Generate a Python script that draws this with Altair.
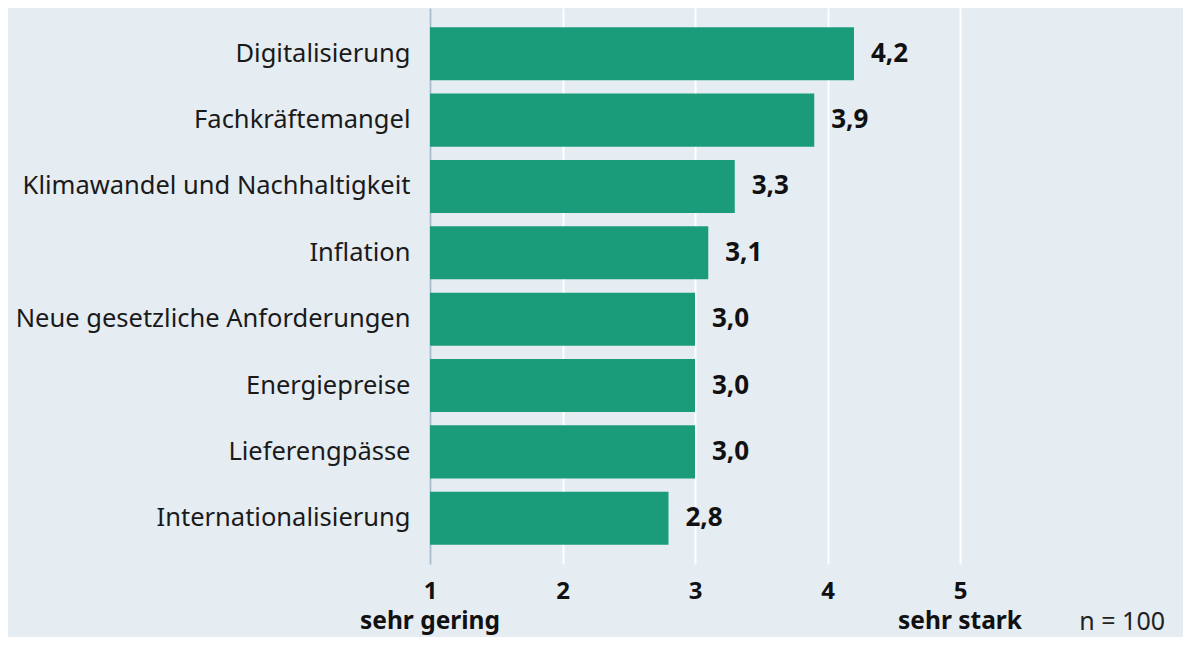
import altair as alt
import pandas as pd

categories = ["Digitalisierung", "Fachkräftemangel", "Klimawandel und Nachhaltigkeit",
              "Inflation", "Neue gesetzliche Anforderungen", "Energiepreise",
              "Lieferengpässe", "Internationalisierung"]
values = [4.2, 3.9, 3.3, 3.1, 3.0, 3.0, 3.0, 2.8]
tick_values = [1, 2, 3, 4, 5]
end_labels = ["sehr gering", "sehr stark"]
end_positions = [1, 5]
note = "n = 100"

df = pd.DataFrame({"cat": categories, "val": values})
df_ends = pd.DataFrame({"pos": end_positions, "label": end_labels})
df_note = pd.DataFrame({"label": [note]})

FONT = "Noto Sans"
BG = "#e5ecf2"
BAR = "#1a9c7b"

xscale = alt.Scale(domain=[1, 5], nice=False, zero=False)
yscale = alt.Scale(domain=categories, paddingInner=0.2, paddingOuter=0.29)

base = alt.Chart(df)

bars = base.mark_bar(color=BAR).encode(
    x=alt.X("val:Q", scale=xscale,
            axis=alt.Axis(values=tick_values, title=None, grid=True, gridColor="white",
                          gridWidth=2, domain=False, ticks=False, labelPadding=15,
                          labelFontSize=24, labelFontWeight="bold", labelColor="#111111",
                          labelFont=FONT, format="d", labelFlush=False)),
    x2=alt.datum(1),
    y=alt.Y("cat:N", scale=yscale, sort=None,
            axis=alt.Axis(title=None, ticks=False, domainColor="#a8bdcb", domainWidth=2,
                          labelPadding=20, labelFontSize=25.5, labelColor="#1a1a1a",
                          labelFont=FONT, labelLimit=500)),
)

labels = base.mark_text(align="left", baseline="middle", dx=17, fontSize=26,
                        fontWeight="bold", font=FONT, color="#111111").transform_calculate(
    txt="replace(format(datum.val, '.1f'), '.', ',')"
).encode(
    x=alt.X("val:Q", scale=xscale),
    y=alt.Y("cat:N", scale=yscale, sort=None),
    text="txt:N",
)

ends = alt.Chart(df_ends).mark_text(align="center", baseline="middle", fontSize=24.5,
                                    fontWeight="bold", font=FONT, color="#111111").encode(
    x=alt.X("pos:Q", scale=xscale),
    y=alt.value(614),
    text="label:N",
)

nlabel = alt.Chart(df_note).mark_text(align="right", baseline="middle", fontSize=25,
                                      font=FONT, color="#222222").encode(
    x=alt.value(735),
    y=alt.value(614),
    text="label:N",
)

chart = alt.layer(bars, labels, ends, nlabel).properties(
    width=530, height=556,
    background=BG,
    autosize=alt.AutoSizeParams(type="none"),
    padding={"left": 422, "top": 0, "right": 223, "bottom": 73},
).configure_view(stroke=None)

chart.save("out.html", embed_options={"renderer": "svg", "actions": False})
